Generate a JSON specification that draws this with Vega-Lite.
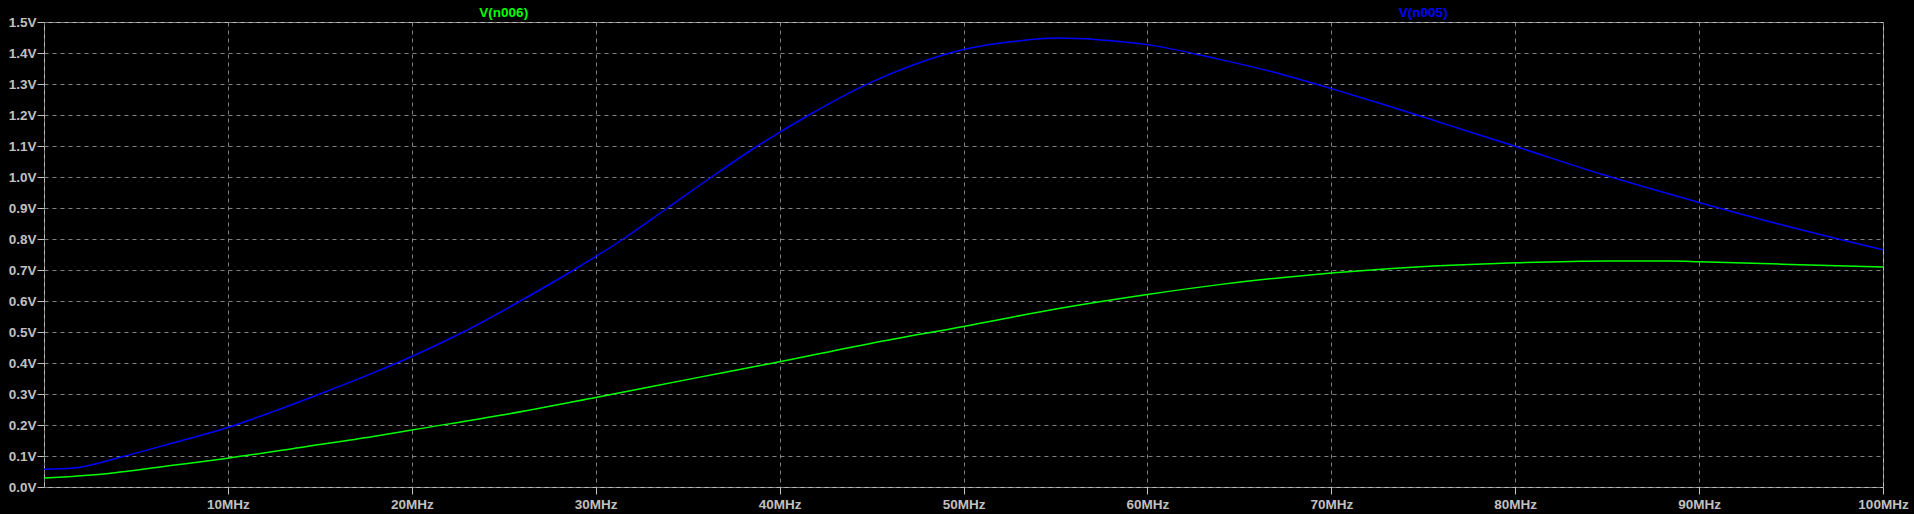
{
  "$schema": "https://vega.github.io/schema/vega-lite/v6.json",
  "width": 1839,
  "height": 465,
  "autosize": {"type": "none"},
  "padding": {"left": 44, "top": 22, "right": 31, "bottom": 27},
  "background": "#000000",
  "config": {
    "view": {"stroke": "#c0c0c0", "strokeWidth": 1, "fill": "#000000"},
    "font": "Liberation Sans",
    "axis": {
      "grid": true,
      "gridColor": "#808080",
      "gridDash": [4, 4],
      "gridWidth": 1,
      "domain": false,
      "tickColor": "#c0c0c0",
      "tickSize": 7,
      "labelColor": "#c0c0c0",
      "labelFont": "Liberation Sans",
      "labelFontSize": 13.5,
      "labelFontWeight": "bold",
      "labelFlush": false,
      "labelOverlap": false,
      "labelSeparation": 0,
      "title": null
    },
    "axisX": {
      "tickCount": 10,
      "labelExpr": "datum.value == 0 ? '' : datum.value + 'MHz'",
      "tickOpacity": {"condition": {"test": "datum.value == 0", "value": 0}, "value": 1},
      "labelPadding": 3
    },
    "axisY": {
      "tickCount": 15,
      "labelExpr": "format(datum.value, '.1f') + 'V'",
      "labelPadding": 1
    }
  },
  "datasets": {
    "traces": [
      {"series": "V(n005)", "freq_MHz": 0, "volts": 0.057},
      {"series": "V(n005)", "freq_MHz": 1.6, "volts": 0.061},
      {"series": "V(n005)", "freq_MHz": 4.4, "volts": 0.100},
      {"series": "V(n005)", "freq_MHz": 7.0, "volts": 0.142},
      {"series": "V(n005)", "freq_MHz": 10, "volts": 0.192},
      {"series": "V(n005)", "freq_MHz": 12.5, "volts": 0.244},
      {"series": "V(n005)", "freq_MHz": 15.0, "volts": 0.300},
      {"series": "V(n005)", "freq_MHz": 17.9, "volts": 0.368},
      {"series": "V(n005)", "freq_MHz": 20, "volts": 0.421},
      {"series": "V(n005)", "freq_MHz": 22.8, "volts": 0.500},
      {"series": "V(n005)", "freq_MHz": 25.9, "volts": 0.600},
      {"series": "V(n005)", "freq_MHz": 28.8, "volts": 0.700},
      {"series": "V(n005)", "freq_MHz": 31.5, "volts": 0.800},
      {"series": "V(n005)", "freq_MHz": 33.9, "volts": 0.900},
      {"series": "V(n005)", "freq_MHz": 36.3, "volts": 1.000},
      {"series": "V(n005)", "freq_MHz": 38.8, "volts": 1.100},
      {"series": "V(n005)", "freq_MHz": 40, "volts": 1.144},
      {"series": "V(n005)", "freq_MHz": 41.6, "volts": 1.200},
      {"series": "V(n005)", "freq_MHz": 44.7, "volts": 1.298},
      {"series": "V(n005)", "freq_MHz": 47.3, "volts": 1.362},
      {"series": "V(n005)", "freq_MHz": 50, "volts": 1.411},
      {"series": "V(n005)", "freq_MHz": 52.7, "volts": 1.437},
      {"series": "V(n005)", "freq_MHz": 55.1, "volts": 1.448},
      {"series": "V(n005)", "freq_MHz": 57.3, "volts": 1.443},
      {"series": "V(n005)", "freq_MHz": 60, "volts": 1.427},
      {"series": "V(n005)", "freq_MHz": 63.8, "volts": 1.381},
      {"series": "V(n005)", "freq_MHz": 67.4, "volts": 1.330},
      {"series": "V(n005)", "freq_MHz": 70, "volts": 1.285},
      {"series": "V(n005)", "freq_MHz": 72.9, "volts": 1.233},
      {"series": "V(n005)", "freq_MHz": 76.5, "volts": 1.165},
      {"series": "V(n005)", "freq_MHz": 80, "volts": 1.099},
      {"series": "V(n005)", "freq_MHz": 84.8, "volts": 1.007},
      {"series": "V(n005)", "freq_MHz": 90, "volts": 0.918},
      {"series": "V(n005)", "freq_MHz": 94.8, "volts": 0.841},
      {"series": "V(n005)", "freq_MHz": 100, "volts": 0.765},
      {"series": "V(n006)", "freq_MHz": 0, "volts": 0.029},
      {"series": "V(n006)", "freq_MHz": 3.4, "volts": 0.043},
      {"series": "V(n006)", "freq_MHz": 7.0, "volts": 0.070},
      {"series": "V(n006)", "freq_MHz": 10, "volts": 0.093},
      {"series": "V(n006)", "freq_MHz": 14.3, "volts": 0.131},
      {"series": "V(n006)", "freq_MHz": 17.9, "volts": 0.163},
      {"series": "V(n006)", "freq_MHz": 20, "volts": 0.184},
      {"series": "V(n006)", "freq_MHz": 25, "volts": 0.233},
      {"series": "V(n006)", "freq_MHz": 30, "volts": 0.289},
      {"series": "V(n006)", "freq_MHz": 35.1, "volts": 0.348},
      {"series": "V(n006)", "freq_MHz": 40, "volts": 0.404},
      {"series": "V(n006)", "freq_MHz": 45, "volts": 0.464},
      {"series": "V(n006)", "freq_MHz": 50, "volts": 0.518},
      {"series": "V(n006)", "freq_MHz": 55.1, "volts": 0.575},
      {"series": "V(n006)", "freq_MHz": 60, "volts": 0.621},
      {"series": "V(n006)", "freq_MHz": 63.8, "volts": 0.652},
      {"series": "V(n006)", "freq_MHz": 67.4, "volts": 0.676},
      {"series": "V(n006)", "freq_MHz": 70, "volts": 0.690},
      {"series": "V(n006)", "freq_MHz": 72.9, "volts": 0.703},
      {"series": "V(n006)", "freq_MHz": 76.5, "volts": 0.715},
      {"series": "V(n006)", "freq_MHz": 80, "volts": 0.723},
      {"series": "V(n006)", "freq_MHz": 85, "volts": 0.729},
      {"series": "V(n006)", "freq_MHz": 88.5, "volts": 0.729},
      {"series": "V(n006)", "freq_MHz": 90, "volts": 0.727},
      {"series": "V(n006)", "freq_MHz": 92.9, "volts": 0.722},
      {"series": "V(n006)", "freq_MHz": 96.5, "volts": 0.715},
      {"series": "V(n006)", "freq_MHz": 100, "volts": 0.710}
    ]
  },
  "layer": [
    {
      "data": {"name": "traces"},
      "mark": {"type": "line", "strokeWidth": 1.5, "interpolate": "monotone"},
      "encoding": {
        "x": {
          "field": "freq_MHz",
          "type": "quantitative",
          "scale": {"domain": [0, 100], "nice": false, "zero": false}
        },
        "y": {
          "field": "volts",
          "type": "quantitative",
          "scale": {"domain": [0, 1.5], "nice": false, "zero": false}
        },
        "color": {
          "field": "series",
          "type": "nominal",
          "scale": {"domain": ["V(n005)", "V(n006)"], "range": ["#0000ff", "#00ff00"]},
          "legend": null
        }
      }
    },
    {
      "data": {"values": [{"label": "V(n006)"}]},
      "mark": {"type": "text", "color": "#00ff00", "font": "Liberation Sans", "fontSize": 13.5, "fontWeight": "bold", "baseline": "middle", "align": "center"},
      "encoding": {
        "x": {"datum": 25, "type": "quantitative"},
        "y": {"datum": 1.5306, "type": "quantitative"},
        "text": {"field": "label"}
      }
    },
    {
      "data": {"values": [{"label": "V(n005)"}]},
      "mark": {"type": "text", "color": "#0000ff", "font": "Liberation Sans", "fontSize": 13.5, "fontWeight": "bold", "baseline": "middle", "align": "center"},
      "encoding": {
        "x": {"datum": 75, "type": "quantitative"},
        "y": {"datum": 1.5306, "type": "quantitative"},
        "text": {"field": "label"}
      }
    }
  ]
}
